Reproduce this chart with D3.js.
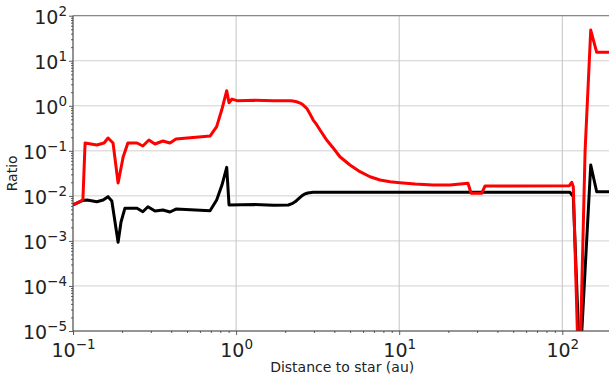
<!DOCTYPE html>
<html><head><meta charset="utf-8">
<script src="https://cdn.jsdelivr.net/npm/d3@7"></script>
<style>body{margin:0;background:#fff;} svg{display:block;font-family:"DejaVu Sans",sans-serif;}</style>
</head><body><svg id="c" width="609" height="378"></svg>
<script>
// Tick exponents (labels are 10^exp)
const xTickExps = [-1, 0, 1, 2];
const yTickExps = [-5, -4, -3, -2, -1, 0, 1, 2];

// Red series (distance in au, ratio)
const redDistance = [0.1, 0.115, 0.1186, 0.14, 0.155, 0.164, 0.176, 0.189, 0.203, 0.217, 0.247, 0.268, 0.292, 0.318, 0.356, 0.393, 0.428, 0.692, 0.76, 0.816, 0.876, 0.905, 0.944, 1.013, 1.3, 1.7, 2.14, 2.23, 2.35, 2.47, 2.57, 2.71, 2.84, 2.97, 3.12, 3.27, 3.43, 3.59, 3.95, 4.33, 4.99, 5.75, 6.62, 7.63, 8.79, 10.1, 12.5, 16.1, 20.5, 26.4, 27.6, 32.0, 33.6, 110.5, 114.3, 116.8, 126.9, 138, 149.4, 162.5, 200];
const redRatio = [0.00627, 0.0081, 0.149, 0.135, 0.149, 0.193, 0.149, 0.0193, 0.073, 0.149, 0.149, 0.128, 0.174, 0.142, 0.165, 0.149, 0.183, 0.213, 0.344, 0.805, 2.16, 1.17, 1.41, 1.30, 1.32, 1.30, 1.30, 1.28, 1.23, 1.15, 1.05, 0.88, 0.656, 0.483, 0.38, 0.29, 0.224, 0.174, 0.114, 0.074, 0.0484, 0.0344, 0.0266, 0.0225, 0.0206, 0.0196, 0.0183, 0.0174, 0.0174, 0.019, 0.0114, 0.0114, 0.01655, 0.0168, 0.020, 0.016, 3.6e-7, 0.104, 48, 15.4, 15.4];

// Black series
const blackDistance = [0.1, 0.115, 0.122, 0.14, 0.153, 0.164, 0.173, 0.189, 0.197, 0.208, 0.247, 0.268, 0.288, 0.318, 0.356, 0.393, 0.428, 0.692, 0.76, 0.819, 0.876, 0.905, 1.3, 1.7, 2.09, 2.2, 2.30, 2.40, 2.52, 2.62, 2.75, 2.97, 111.4, 116.8, 128.1, 149.4, 162.5, 200];
const blackRatio = [0.00627, 0.0079, 0.0081, 0.0074, 0.0081, 0.0096, 0.0077, 0.00093, 0.00263, 0.0053, 0.0053, 0.00445, 0.00574, 0.00461, 0.00485, 0.00439, 0.0051, 0.00469, 0.0081, 0.0174, 0.043, 0.00627, 0.0064, 0.0062, 0.00627, 0.0067, 0.0074, 0.0085, 0.0099, 0.0109, 0.0116, 0.0120, 0.0120, 0.0096, 1.54e-6, 0.0484, 0.01236, 0.01236];

const xLabel = "Distance to star (au)";
const yLabel = "Ratio";

const L = 73, R = 611.4, T = 15.7, B = 331;
const svg = d3.select("#c");
const x = d3.scaleLog().domain([0.1, 200]).range([L, R]);
const y = d3.scaleLog().domain([1e-5, 100]).range([B, T]);

// grid
const g = svg.append("g");
g.selectAll(".hg").data(yTickExps).join("line")
  .attr("x1", L).attr("x2", R).attr("y1", d => y(Math.pow(10, d))).attr("y2", d => y(Math.pow(10, d)))
  .attr("stroke", "#d0d0d0").attr("stroke-width", 1);
g.selectAll(".vg").data(xTickExps).join("line")
  .attr("y1", T).attr("y2", B).attr("x1", d => x(Math.pow(10, d))).attr("x2", d => x(Math.pow(10, d)))
  .attr("stroke", "#c4c4c4").attr("stroke-width", 1);

svg.append("clipPath").attr("id", "clip").append("rect")
  .attr("x", L).attr("y", T).attr("width", R - L).attr("height", B - T);

const line = d3.line().x(d => x(d[0])).y(d => y(d[1]));
const plot = svg.append("g").attr("clip-path", "url(#clip)");
plot.append("path").datum(d3.zip(blackDistance, blackRatio)).attr("d", line)
  .attr("fill", "none").attr("stroke", "#000").attr("stroke-width", 3).attr("stroke-linejoin", "round");
plot.append("path").datum(d3.zip(redDistance, redRatio)).attr("d", line)
  .attr("fill", "none").attr("stroke", "#ff0000").attr("stroke-width", 3).attr("stroke-linejoin", "round");

// minor tick values
const xMinor = [], yMinor = [];
for (let e = -1; e <= 2; e++) for (let m = 2; m <= 9; m++) { const v = m * Math.pow(10, e); if (v <= 200) xMinor.push(v); }
for (let e = -5; e <= 1; e++) for (let m = 2; m <= 9; m++) yMinor.push(m * Math.pow(10, e));

function styleAxis(sel) {
  sel.select(".domain").remove();
  sel.selectAll(".tick line").attr("stroke", "#333").attr("stroke-width", 0.8);
}
function supLabel(sel, anchor) {
  sel.selectAll(".tick text").each(function(d) {
    const t = d3.select(this);
    const e = Math.round(Math.log10(d));
    t.text(null).attr("text-anchor", anchor).attr("fill", "#222");
    t.append("tspan").text("10");
    t.append("tspan").attr("font-size", "13.5px").attr("dy", -8).text(e < 0 ? "\u2212" + (-e) : String(e));
  });
}

const xAxis = svg.append("g").attr("transform", `translate(0,${B})`)
  .call(d3.axisBottom(x).tickValues(xTickExps.map(e => Math.pow(10, e))).tickSize(4).tickPadding(4).tickFormat(d => d))
  .attr("font-size", 19).attr("font-family", "DejaVu Sans");
styleAxis(xAxis); supLabel(xAxis, "middle");
xAxis.selectAll(".tick text").attr("dy", "0.93em");
const xAxisMinor = svg.append("g").attr("transform", `translate(0,${B})`)
  .call(d3.axisBottom(x).tickValues(xMinor).tickSize(2).tickFormat(""));
styleAxis(xAxisMinor);

const yAxis = svg.append("g").attr("transform", `translate(${L},0)`)
  .call(d3.axisLeft(y).tickValues(yTickExps.map(e => Math.pow(10, e))).tickSize(4).tickPadding(2).tickFormat(d => d))
  .attr("font-size", 19).attr("font-family", "DejaVu Sans");
styleAxis(yAxis); supLabel(yAxis, "end");
yAxis.selectAll(".tick text").attr("dy", "0.42em");
const yAxisMinor = svg.append("g").attr("transform", `translate(${L},0)`)
  .call(d3.axisLeft(y).tickValues(yMinor).tickSize(2).tickFormat(""));
styleAxis(yAxisMinor);

// spines
svg.append("line").attr("x1", L).attr("x2", L).attr("y1", T).attr("y2", B).attr("stroke", "#444").attr("stroke-width", 1);
svg.append("line").attr("x1", L).attr("x2", R).attr("y1", B).attr("y2", B).attr("stroke", "#444").attr("stroke-width", 1);
svg.append("line").attr("x1", L).attr("x2", R).attr("y1", T).attr("y2", T).attr("stroke", "#777").attr("stroke-width", 1);
svg.append("line").attr("x1", R).attr("x2", R).attr("y1", T).attr("y2", B).attr("stroke", "#777").attr("stroke-width", 1);

svg.append("text").attr("x", (L + R) / 2).attr("y", 372).attr("text-anchor", "middle")
  .attr("font-size", 14).attr("fill", "#222").text(xLabel);
svg.append("text").attr("transform", `translate(17,${(T + B) / 2}) rotate(-90)`).attr("text-anchor", "middle")
  .attr("font-size", 14).attr("fill", "#222").text(yLabel);
</script></body></html>
